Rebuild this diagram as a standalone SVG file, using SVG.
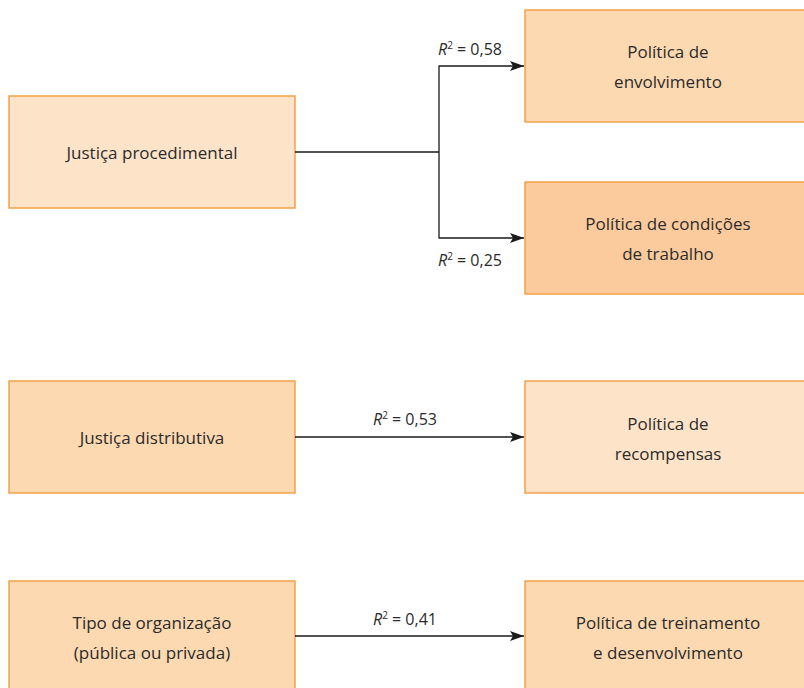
<svg xmlns="http://www.w3.org/2000/svg" width="804" height="688" viewBox="0 0 804 688">
<defs>
<style>
.box{stroke:#f5a04a;stroke-width:1.5}
.l1{fill:#fde4c9}
.l2{fill:#fcd9b1}
.l3{fill:#fbcb9d}
.t{font-family:"Open Sans","Noto Sans",sans-serif;font-size:17px;fill:#2b2b2b;text-anchor:middle}
.r{font-family:"Open Sans","Noto Sans",sans-serif;font-size:16px;fill:#2b2b2b}
.c{fill:none;stroke:#1a1a1a;stroke-width:1.3}
</style>
<marker id="ah" viewBox="0 0 14 10" refX="14" refY="5" markerWidth="14" markerHeight="10" markerUnits="userSpaceOnUse" orient="auto">
<path d="M0,0 L14,5 L0,10 L3,5 Z" fill="#1a1a1a"/>
</marker>
</defs>
<rect width="804" height="688" fill="#ffffff"/>
<g id="n1"><rect class="box l1" x="9" y="96" width="286" height="112"/><text class="t" x="152" y="159">Justiça procedimental</text></g>
<g id="n2"><rect class="box l2" x="525" y="10" width="285" height="112"/><text class="t" x="668" y="58">Política de</text><text class="t" x="668" y="88">envolvimento</text></g>
<g id="n3"><rect class="box l3" x="525" y="182" width="285" height="112"/><text class="t" x="668" y="230">Política de condições</text><text class="t" x="668" y="260">de trabalho</text></g>
<g id="n4"><rect class="box l2" x="9" y="381" width="286" height="112"/><text class="t" x="152" y="444">Justiça distributiva</text></g>
<g id="n5"><rect class="box l1" x="525" y="381" width="285" height="112"/><text class="t" x="668" y="430">Política de</text><text class="t" x="668" y="460">recompensas</text></g>
<g id="n6"><rect class="box l2" x="9" y="581" width="286" height="112"/><text class="t" x="152" y="629">Tipo de organização</text><text class="t" x="152" y="659">(pública ou privada)</text></g>
<g id="n7"><rect class="box l2" x="525" y="581" width="285" height="112"/><text class="t" x="668" y="629">Política de treinamento</text><text class="t" x="668" y="659">e desenvolvimento</text></g>
<g id="connectors">
<path class="c" d="M295,152 H439"/>
<path class="c" d="M439,152 V66 H524" marker-end="url(#ah)"/>
<path class="c" d="M439,152 V238 H524" marker-end="url(#ah)"/>
<path class="c" d="M295,437 H524" marker-end="url(#ah)"/>
<path class="c" d="M295,636 H524" marker-end="url(#ah)"/>
</g>
<g id="labels">
<text class="r" x="438" y="55"><tspan font-style="italic">R</tspan><tspan font-size="10" dy="-6">2</tspan><tspan dy="6"> = 0,58</tspan></text>
<text class="r" x="438" y="266"><tspan font-style="italic">R</tspan><tspan font-size="10" dy="-6">2</tspan><tspan dy="6"> = 0,25</tspan></text>
<text class="r" x="373" y="425"><tspan font-style="italic">R</tspan><tspan font-size="10" dy="-6">2</tspan><tspan dy="6"> = 0,53</tspan></text>
<text class="r" x="373" y="625"><tspan font-style="italic">R</tspan><tspan font-size="10" dy="-6">2</tspan><tspan dy="6"> = 0,41</tspan></text>
</g>
</svg>
